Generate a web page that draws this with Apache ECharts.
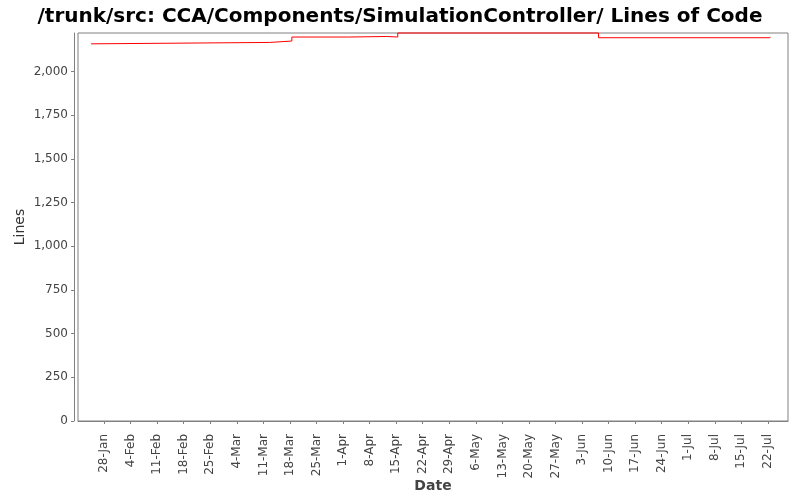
<!DOCTYPE html>
<html>
<head>
<meta charset="utf-8">
<script src="https://cdn.jsdelivr.net/npm/echarts@6/dist/echarts.min.js"></script>
<style>
  html, body { margin: 0; padding: 0; background: #fff; }
  #chart { width: 800px; height: 500px; }
</style>
</head>
<body>
<div id="chart"></div>
<script>
// commit dates and line counts (step line)
const dates = [
  '2013-01-24 14:00', '2013-01-24 18:00', '2013-03-12 14:00', '2013-03-18 12:00',
  '2013-04-02 12:00', '2013-04-12 12:00', '2013-04-15 10:00', '2013-06-07 08:00',
  '2013-07-22 12:00', '2013-07-22 16:00'
];
const lines = [2158, 2166, 2174, 2197, 2200, 2197, 2220, 2193, 2193, 2198];

// weekly tick dates on the date axis
const tickDates = [
  '2013-01-28', '2013-02-04', '2013-02-11', '2013-02-18', '2013-02-25',
  '2013-03-04', '2013-03-11', '2013-03-18', '2013-03-25', '2013-04-01',
  '2013-04-08', '2013-04-15', '2013-04-22', '2013-04-29', '2013-05-06',
  '2013-05-13', '2013-05-20', '2013-05-27', '2013-06-03', '2013-06-10',
  '2013-06-17', '2013-06-24', '2013-07-01', '2013-07-08', '2013-07-15',
  '2013-07-22'
];
const yTicks = [0, 250, 500, 750, 1000, 1250, 1500, 1750, 2000];
const months = ['Jan', 'Feb', 'Mar', 'Apr', 'May', 'Jun', 'Jul', 'Aug', 'Sep', 'Oct', 'Nov', 'Dec'];

const toTime = s => new Date(s.length > 10 ? s.replace(' ', 'T') + ':00' : s + 'T00:00:00').getTime();
const tickTimes = tickDates.map(toTime);

const chart = echarts.init(document.getElementById('chart'));

chart.setOption({
  animation: false,
  textStyle: { fontFamily: 'DejaVu Sans' },
  title: {
    text: '/trunk/src: CCA/Components/SimulationController/ Lines of Code',
    left: 'center',
    top: 2,
    textStyle: { fontFamily: 'DejaVu Sans', fontWeight: 'bold', fontSize: 20, color: '#000' }
  },
  grid: {
    left: 78, right: 12, top: 33, bottom: 79,
    outerBoundsMode: 'none',
    containLabel: false,
    show: true, borderColor: '#808080', borderWidth: 1, backgroundColor: '#fff'
  },
  xAxis: {
    type: 'value',
    min: toTime('2013-01-21 03:00'),
    max: toTime('2013-07-27 07:00'),
    offset: 4,
    name: 'Date',
    nameLocation: 'middle',
    nameGap: 54,
    nameMoveOverlap: false,
    nameTextStyle: { fontSize: 14, fontWeight: 'bold', color: '#444' },
    axisLine: { show: true, lineStyle: { color: '#808080', width: 1 } },
    axisTick: { show: true, length: 3, lineStyle: { color: '#808080' }, customValues: tickTimes },
    axisLabel: {
      rotate: 90, fontSize: 12, color: '#444', margin: 9,
      customValues: tickTimes,
      formatter: v => { const d = new Date(v); return d.getDate() + '-' + months[d.getMonth()]; }
    },
    splitLine: { show: false }
  },
  yAxis: {
    type: 'value',
    min: 0,
    max: 2220,
    offset: 4,
    name: 'Lines',
    nameLocation: 'middle',
    nameGap: 47,
    nameMoveOverlap: false,
    nameTextStyle: { fontSize: 14, color: '#333' },
    axisLine: { show: true, lineStyle: { color: '#808080', width: 1 } },
    axisTick: { show: true, length: 3, lineStyle: { color: '#808080' }, customValues: yTicks },
    axisLabel: {
      fontSize: 12, color: '#444', margin: 6,
      customValues: yTicks,
      formatter: v => v.toLocaleString('en-US')
    },
    splitLine: { show: false }
  },
  series: [{
    type: 'line',
    step: 'end',
    data: dates.map((d, i) => [toTime(d), lines[i]]),
    showSymbol: false,
    lineStyle: { color: '#ff0000', width: 1 },
    clip: false
  }]
});
</script>
</body>
</html>
